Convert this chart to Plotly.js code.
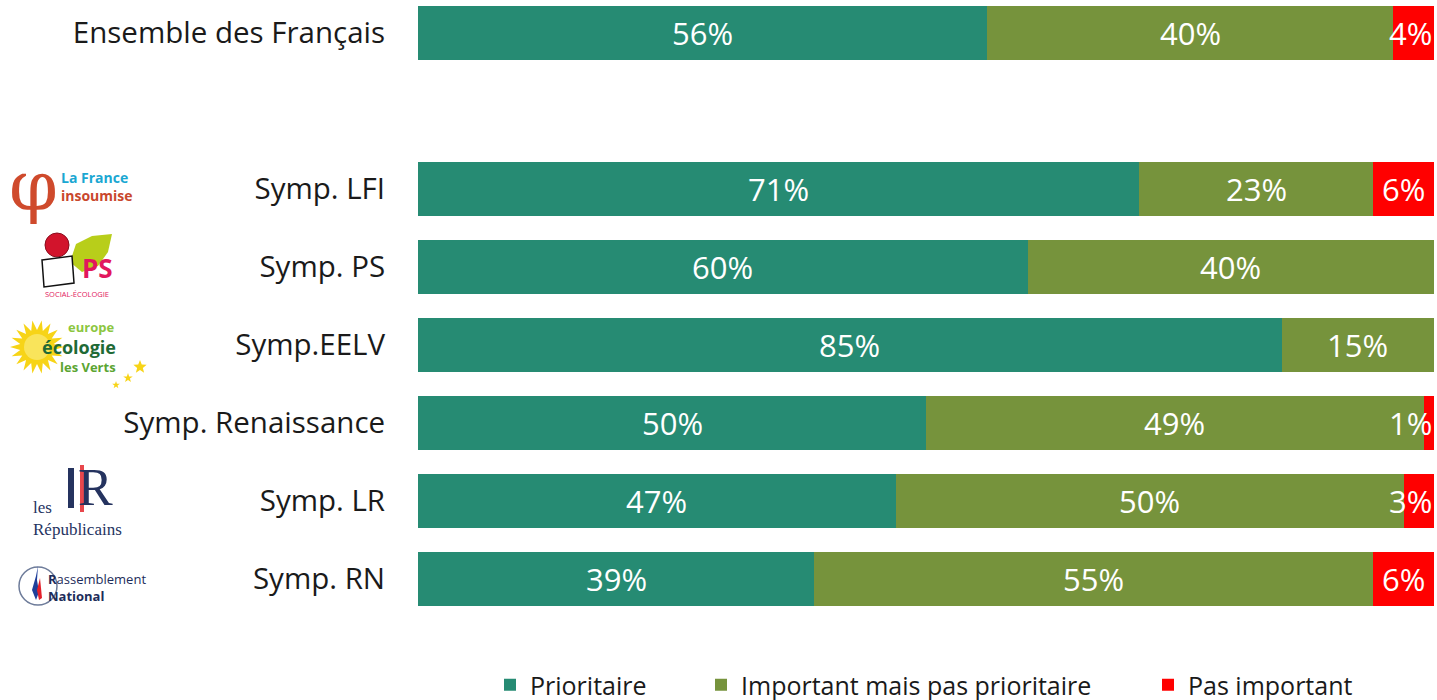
<!DOCTYPE html>
<html>
<head>
<meta charset="utf-8">
<script src="https://cdn.plot.ly/plotly-3.0.1.min.js"></script>
<style>html,body{margin:0;padding:0;background:#fff;}#chart{width:1437px;height:700px;}</style>
</head>
<body>
<div id="chart"></div>
<script>
// ---- Data ----
const categories = ["Ensemble des Français","Symp. LFI","Symp. PS","Symp.EELV","Symp. Renaissance","Symp. LR","Symp. RN"];
const prioritaire = [56,71,60,85,50,47,39];
const importantMaisPas = [40,23,40,15,49,50,55];
const pasImportant = [4,6,0,0,1,3,6];
const seriesNames = ["Prioritaire","Important mais pas prioritaire","Pas important"];

// ---- Layout helpers ----
const rowPos = categories.map((c,i)=> i===0 ? 0 : i+1); // blank row after the first bar
const colors = ["#268B73","#76933C","#FF0000"];
const W=1437,H=700,ML=418,MR=3,MT=0,MB=82;
const PW=W-ML-MR, PH=H-MT-MB;
const px = x => (x-ML)/PW;
const py = y => (PH+MT-y)/PH;

const series=[prioritaire,importantMaisPas,pasImportant];
const legendIds=['legend','legend2','legend3'];
const legendTextX=[530,741,1188];
const traces = series.map((vals,k)=>({
  type:'bar', orientation:'h', name:seriesNames[k],
  x:vals, y:rowPos, width:0.69,
  marker:{color:colors[k], line:{width:0}},
  legend:legendIds[k],
  hoverinfo:'skip'
}));

const annotations=[];
// bar value labels
rowPos.forEach((pos,i)=>{
  let cum=0;
  series.forEach((vals,k)=>{
    const v=vals[i];
    if(v>0){
      const small = v<5;
      annotations.push({
        xref:'x',yref:'y',x: small?100:cum+v/2, y:pos,
        xanchor: small?'right':'center', yanchor:'middle',
        text:v+'%', showarrow:false,
        font:{family:'Open Sans, sans-serif',size:31,color:'#ffffff'}
      });
    }
    cum+=v;
  });
});

// ---- Party logo approximations (text + simple shapes) ----
function A(text,x,y,size,color,opts){
  const o=Object.assign({xref:'paper',yref:'paper',x:px(x),y:py(y),text:text,showarrow:false,
    xanchor:'left',yanchor:'middle',align:'left',font:{family:'Open Sans, sans-serif',size:size,color:color}},opts||{});
  if(opts&&opts.font) o.font=Object.assign({family:'Open Sans, sans-serif',size:size,color:color},opts.font);
  annotations.push(o);
}
// LFI
A('φ',33,186,70,'#CF4A2C',{xanchor:'center',font:{family:'DejaVu Serif'}});
A('<b><span style="color:#1AA7D2">La France</span><br><span style="color:#C9472D">insoumise</span></b>',59,186,14,'#1AA7D2');
// PS
A('<b>PS</b>',80,268,26,'#E2175D');
A('SOCIAL-ÉCOLOGIE',43,294,7.5,'#E2175D');
// EELV
A('<b>europe</b>',66,327,13,'#8CC63F');
A('<b>écologie</b>',40,347,18,'#1F6A36');
A('<b>les Verts</b>',58,367,13,'#5BA532');
// LR
A('les<br>Républicains',31,518,17,'#25335F',{font:{family:'Liberation Serif'}});
A('R',76,488,52,'#25335F',{font:{family:'Liberation Serif'}});
// RN
A('<b>R</b>assemblement<br><b>National</b>',46,587,13,'#1D2C5A');

const shapes=[];
function rect(x0,y0,x1,y1,color){shapes.push({type:'rect',xref:'paper',yref:'paper',x0:px(x0),x1:px(x1),y0:py(y1),y1:py(y0),fillcolor:color,line:{width:0},layer:'above'});}
function circ(cx,cy,r,fill,line,lw){shapes.push({type:'circle',xref:'paper',yref:'paper',x0:px(cx-r),x1:px(cx+r),y0:py(cy+r),y1:py(cy-r),fillcolor:fill,line:{color:line||fill,width:lw||0},layer:'below'});}
function path(pts,fill,line,lw,layer){
  const d=pts.map((p,i)=>(i?'L':'M')+px(p[0]).toFixed(5)+','+py(p[1]).toFixed(5)).join(' ')+' Z';
  shapes.push({type:'path',xref:'paper',yref:'paper',path:d,fillcolor:fill,line:{color:line||fill,width:lw||0},layer:layer||'below'});
}
function star(cx,cy,ro,ri,n,rot){const p=[];for(let i=0;i<2*n;i++){const a=rot+i*Math.PI/n;const r=i%2?ri:ro;p.push([cx+r*Math.cos(a),cy+r*Math.sin(a)]);}return p;}
// PS leaf, rose, fist
path([[70,262],[76,244],[92,236],[112,234],[108,252],[98,266],[82,272]],'#B8CE1A');
circ(57,245,12,'#D2142C','#8A0E1E',1);
path([[42,260],[72,256],[74,283],[44,287]],'#ffffff','#111111',1.5,'above');
// EELV sun + stars
path(star(37,347,27,17,18,0),'#F7D417');
circ(37,347,13,'#F9E45B');
path(star(140,367,7,3,5,-Math.PI/2),'#F7D417','#F7D417',0,'above');
path(star(128,378,5,2,5,-Math.PI/2),'#F7D417','#F7D417',0,'above');
path(star(116,385,4,1.6,5,-Math.PI/2),'#F7D417','#F7D417',0,'above');
// LR I and red bar
rect(68,468,74,508,'#25335F');
rect(80,465,84,512,'#E8474C');
// RN circle and flame
circ(38,586,19,'rgba(0,0,0,0)','#6E7C9A',1.5);
path([[36,600],[32,590],[36,576],[38,566],[37,580],[39,592]],'#1F3F9A');
path([[39,600],[37,590],[40,578],[41,588],[42,598]],'#E3202B');

const legendFont={family:'Open Sans, sans-serif',size:25,color:'#1a1a1a'};
const layout={
  width:W,height:H,
  margin:{l:ML,r:MR,t:MT,b:MB,pad:0,autoexpand:false},
  barmode:'stack', bargap:0,
  paper_bgcolor:'#ffffff', plot_bgcolor:'#ffffff',
  showlegend:true,
  xaxis:{range:[0,100],visible:false,fixedrange:true},
  yaxis:{range:[7.5,-0.42],tickmode:'array',tickvals:rowPos,ticktext:categories,
    ticks:'outside',ticklen:26,tickcolor:'rgba(0,0,0,0)',showgrid:false,zeroline:false,showline:false,
    tickfont:{family:'Open Sans, sans-serif',size:29.5,color:'#1a1a1a'},fixedrange:true},
  annotations:annotations, shapes:shapes
};
legendIds.forEach((id,k)=>{
  layout[id]={orientation:'h',xref:'container',yref:'container',x:(legendTextX[k]-40)/W,xanchor:'left',
    y:(H-685)/H,yanchor:'middle',font:legendFont,bgcolor:'rgba(0,0,0,0)',itemwidth:30};
});
Plotly.newPlot('chart',traces,layout,{displayModeBar:false,staticPlot:true});
</script>
</body>
</html>
